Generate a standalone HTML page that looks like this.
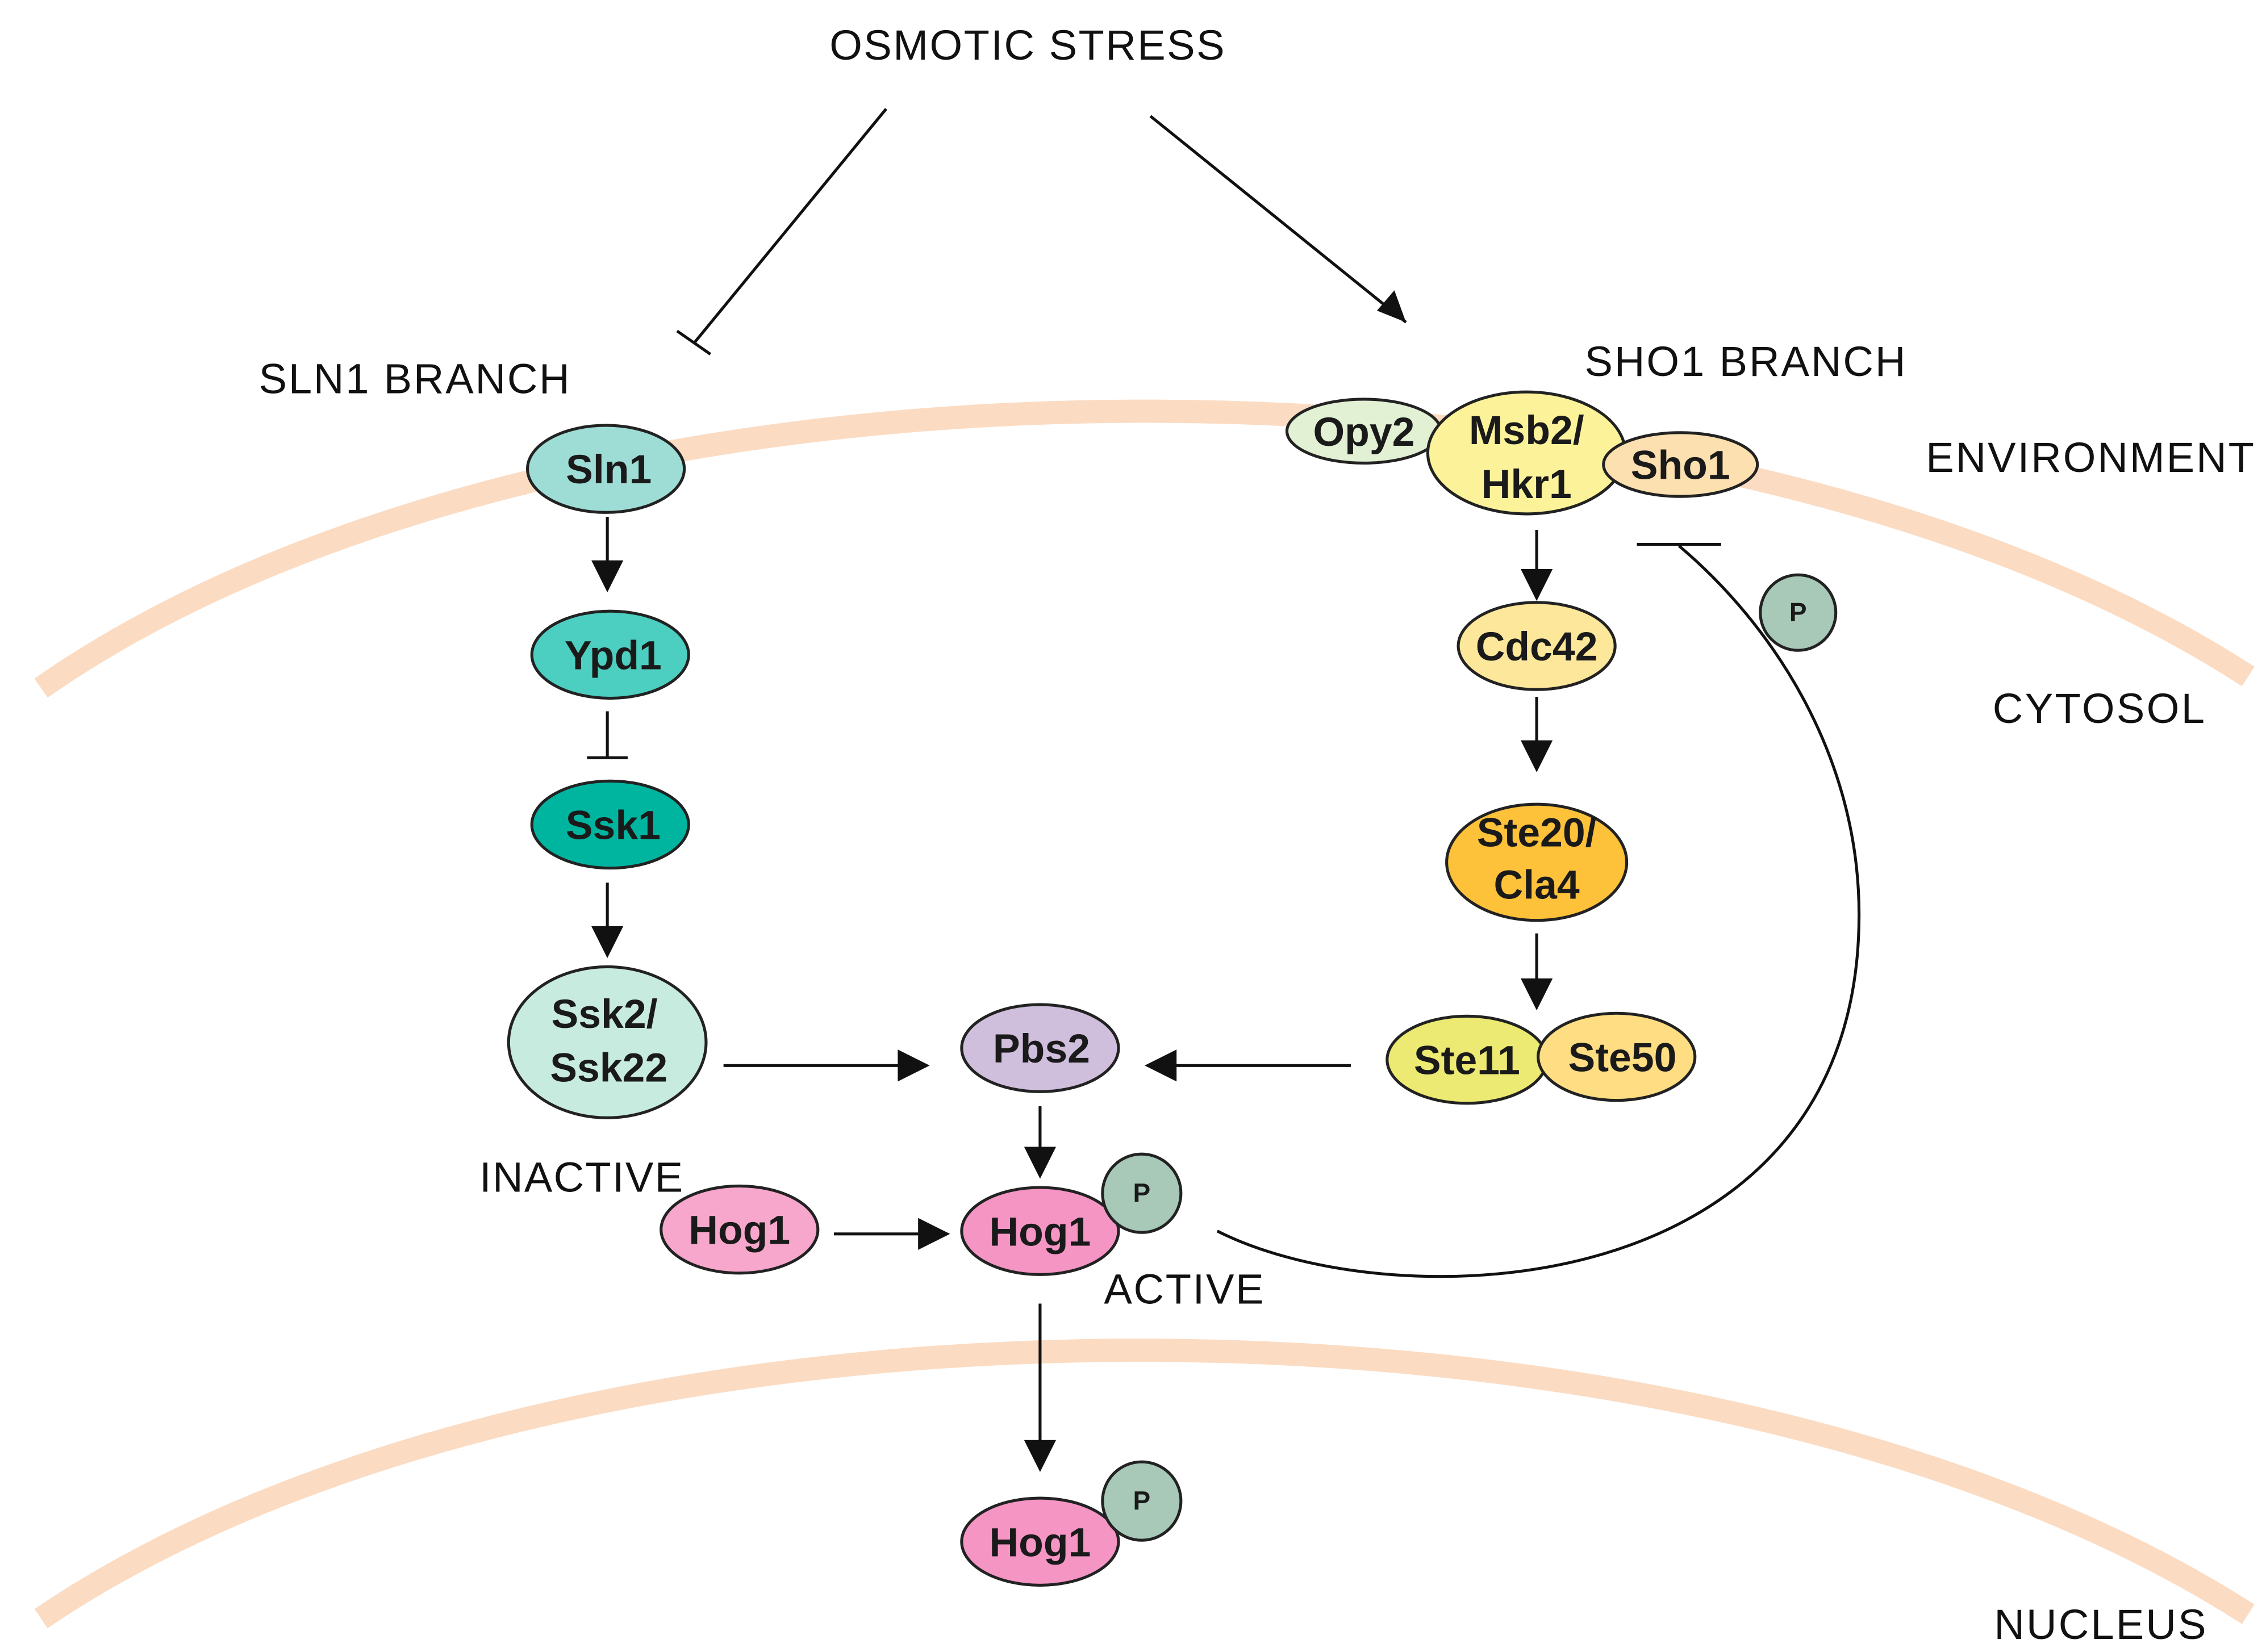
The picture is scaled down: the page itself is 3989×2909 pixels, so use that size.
<!DOCTYPE html>
<html><head><meta charset="utf-8"><style>html,body{margin:0;padding:0;background:#fff}svg{display:block}</style></head><body>
<svg xmlns="http://www.w3.org/2000/svg" width="3989" height="2909" viewBox="0 0 1560 1138">
<rect width="1560" height="1138" fill="#fff"/>
<path d="M28,474 C390,221 1170,221 1548,466" fill="none" stroke="#fbdcc3" stroke-width="16"/>
<path d="M28,1115 C390,869 1170,869 1548,1112" fill="none" stroke="#fbdcc3" stroke-width="16"/>
<g font-family="Liberation Sans, sans-serif" font-size="29" fill="#111">
<text x="707" y="41" text-anchor="middle" textLength="272">OSMOTIC STRESS</text>
<text x="178" y="271" textLength="214">SLN1 BRANCH</text>
<text x="1091" y="259" textLength="221">SHO1 BRANCH</text>
<text x="1326" y="325" textLength="226">ENVIRONMENT</text>
<text x="1372" y="498" textLength="146">CYTOSOL</text>
<text x="1373" y="1129" textLength="146">NUCLEUS</text>
<text x="330" y="821" textLength="140">INACTIVE</text>
<text x="760" y="898" textLength="110">ACTIVE</text>
</g>
<g stroke="#111" stroke-width="2" fill="none">
<line x1="610" y1="75" x2="478" y2="236"/><line x1="466" y1="228" x2="489" y2="244"/>
<line x1="792" y1="80" x2="968" y2="222"/>
<line x1="418" y1="356" x2="418" y2="406"/>
<line x1="418" y1="490" x2="418" y2="522"/><line x1="404" y1="522" x2="432" y2="522"/>
<line x1="418" y1="608" x2="418" y2="658"/>
<line x1="498" y1="734" x2="638" y2="734"/>
<line x1="930" y1="734" x2="790" y2="734"/>
<line x1="574" y1="850" x2="652" y2="850"/>
<line x1="716" y1="762" x2="716" y2="810"/>
<line x1="716" y1="898" x2="716" y2="1012"/>
<line x1="1058" y1="365" x2="1058" y2="412"/>
<line x1="1058" y1="480" x2="1058" y2="530"/>
<line x1="1058" y1="643" x2="1058" y2="694"/>
<path d="M838,848 C960,910 1280,900 1280,630 C1280,520 1220,430 1156,376"/>
<line x1="1127" y1="375" x2="1185" y2="375"/>
</g>
<g fill="#111">
<path d="M968,222 L948,214 L960,200 Z"/>
<path d="M418,408 L407,386 L429,386 Z"/>
<path d="M418,660 L407,638 L429,638 Z"/>
<path d="M640,734 L618,723 L618,745 Z"/>
<path d="M788,734 L810,723 L810,745 Z"/>
<path d="M654,850 L632,839 L632,861 Z"/>
<path d="M716,812 L705,790 L727,790 Z"/>
<path d="M716,1014 L705,992 L727,992 Z"/>
<path d="M1058,414 L1047,392 L1069,392 Z"/>
<path d="M1058,532 L1047,510 L1069,510 Z"/>
<path d="M1058,696 L1047,674 L1069,674 Z"/>
</g>
<g stroke="#222" stroke-width="2">
<ellipse cx="417" cy="323" rx="54" ry="30" fill="#9eddd5"/>
<ellipse cx="420" cy="451" rx="54" ry="30" fill="#4ccfc0"/>
<ellipse cx="420" cy="568" rx="54" ry="30" fill="#00b5a0"/>
<ellipse cx="418" cy="718" rx="68" ry="52" fill="#c8ebe0"/>
<ellipse cx="716" cy="722" rx="54" ry="30" fill="#d0bfdc"/>
<ellipse cx="509" cy="847" rx="54" ry="30" fill="#f8a7cc"/>
<ellipse cx="716" cy="848" rx="54" ry="30" fill="#f495c4"/>
<ellipse cx="786" cy="822" rx="27" ry="27" fill="#a8c8b8"/>
<ellipse cx="716" cy="1062" rx="54" ry="30" fill="#f495c4"/>
<ellipse cx="786" cy="1034" rx="27" ry="27" fill="#a8c8b8"/>
<ellipse cx="939" cy="297" rx="53" ry="22" fill="#e2f0d4"/>
<ellipse cx="1051" cy="312" rx="68" ry="42" fill="#fbf29a"/>
<ellipse cx="1157" cy="320" rx="53" ry="22" fill="#fde0b0"/>
<ellipse cx="1058" cy="445" rx="54" ry="30" fill="#fde79a"/>
<ellipse cx="1058" cy="594" rx="62" ry="40" fill="#fdc13a"/>
<ellipse cx="1010" cy="730" rx="55" ry="30" fill="#ecea72"/>
<ellipse cx="1113" cy="728" rx="54" ry="30" fill="#fedd83"/>
<ellipse cx="1238" cy="422" rx="26" ry="26" fill="#a8c8b8"/>
</g>
<g font-family="Liberation Sans, sans-serif" font-weight="bold" font-size="28" fill="#1a1a1a" text-anchor="middle">
<text x="419" y="333">Sln1</text>
<text x="422" y="461">Ypd1</text>
<text x="422" y="578">Ssk1</text>
<text x="416" y="708">Ssk2/</text><text x="419" y="745">Ssk22</text>
<text x="717" y="732">Pbs2</text>
<text x="509" y="857">Hog1</text>
<text x="716" y="858">Hog1</text>
<text x="716" y="1072">Hog1</text>
<text x="939" y="307">Opy2</text>
<text x="1051" y="306">Msb2/</text><text x="1051" y="343">Hkr1</text>
<text x="1157" y="330">Sho1</text>
<text x="1058" y="455">Cdc42</text>
<text x="1058" y="583">Ste20/</text><text x="1058" y="619">Cla4</text>
<text x="1010" y="740">Ste11</text>
<text x="1117" y="738">Ste50</text>
</g>
<g font-family="Liberation Sans, sans-serif" font-weight="bold" font-size="18" fill="#1a1a1a" text-anchor="middle">
<text x="786" y="828">P</text><text x="786" y="1040">P</text><text x="1238" y="428">P</text>
</g>
</svg>
</body></html>
